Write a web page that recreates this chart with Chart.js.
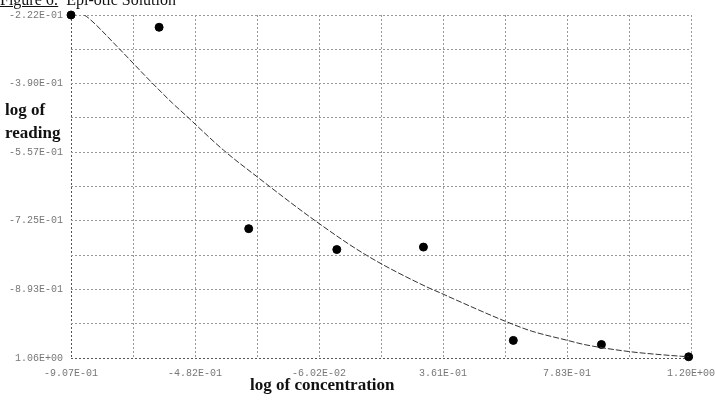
<!DOCTYPE html>
<html>
<head>
<meta charset="utf-8">
<script src="https://cdn.jsdelivr.net/npm/chart.js@4"></script>
<style>
  body { margin: 0; background: #fff; }
  #wrap { position: relative; width: 715px; height: 400px; overflow: hidden; background: #fff; }
  #wrap canvas { position: absolute; left: 0; top: 0; }
  .lbl { position: absolute; font-family: "Liberation Serif", "Times New Roman", serif; color: #111; white-space: pre; }
  #fig-title { left: 0; top: -8px; font-size: 16px; line-height: 16px; }
  #fig-title u { text-decoration-thickness: 1px; }
  #y-title { left: 5px; top: 98px; font-size: 17px; font-weight: bold; line-height: 23px; }
  #x-title { left: 250px; top: 375px; font-size: 17px; font-weight: bold; line-height: 20px; }
</style>
</head>
<body>
<div id="wrap">
  <canvas id="chart" width="715" height="400"></canvas>
  <div class="lbl" id="fig-title"><u>Figure 6:</u>  Epi-otic Solution</div>
  <div class="lbl" id="y-title">log of
reading</div>
  <div class="lbl" id="x-title">log of concentration</div>
</div>
<script>
// measured readings
const xValues = [-0.907, -0.607, -0.302, -0.002, 0.293, 0.599, 0.899, 1.196];
const yValues = [-0.222, -0.252, -0.744, -0.795, -0.789, -1.017, -1.027, -1.057];

// fitted curve, read along its length
const fitX = [-0.862, -0.848, -0.746, -0.647, -0.562, -0.518, -0.388, -0.272, -0.071, 0.099,
              0.303, 0.354, 0.394, 0.571, 0.660, 0.784, 0.840, 0.990, 1.103, 1.196];
const fitY = [-0.222, -0.229, -0.302, -0.376, -0.437, -0.466, -0.552, -0.618, -0.727, -0.809,
              -0.886, -0.902, -0.915, -0.970, -0.994, -1.017, -1.027, -1.044, -1.052, -1.057];

// axis labels, left to right / bottom to top
const xTickLabels = ['-9.07E-01', '-4.82E-01', '-6.02E-02', '3.61E-01', '7.83E-01', '1.20E+00'];
const yTickLabels = ['1.06E+00', '-8.93E-01', '-7.25E-01', '-5.57E-01', '-3.90E-01', '-2.22E-01'];

const X_MIN = -0.907, X_MAX = 1.204;
const Y_MIN = -1.06, Y_MAX = -0.222;
const DIVS = 10;

function gridTicks(min, max) {
    const out = [];
    for (let i = 0; i <= DIVS; i++) out.push({ value: min + (max - min) * i / DIVS });
    return out;
}

const points = xValues.map((x, i) => ({ x, y: yValues[i] }));
const fit = fitX.map((x, i) => ({ x, y: fitY[i] }));

const tickFont = { family: '"Liberation Mono", "DejaVu Sans Mono", monospace', size: 10 };
const gridColor = c => c.index === 0 ? '#555' : '#999';

new Chart(document.getElementById('chart'), {
    type: 'scatter',
    data: {
        datasets: [
            {
                type: 'line',
                data: fit,
                borderColor: '#333',
                borderWidth: 1,
                borderDash: [6, 2],
                pointRadius: 0,
                cubicInterpolationMode: 'monotone',
                fill: false
            },
            {
                data: points,
                backgroundColor: '#000',
                borderColor: '#000',
                pointRadius: 4,
                clip: false
            }
        ]
    },
    options: {
        responsive: false,
        animation: false,
        devicePixelRatio: 1,
        layout: { padding: { top: 15, right: 24, bottom: 0, left: 0 } },
        plugins: { legend: { display: false }, tooltip: { enabled: false } },
        scales: {
            x: {
                type: 'linear',
                min: X_MIN, max: X_MAX,
                afterBuildTicks: s => { s.ticks = gridTicks(X_MIN, X_MAX); },
                afterFit: s => { s.height = 42; s.paddingLeft = 0; s.paddingRight = 0; },
                grid: { color: gridColor, lineWidth: 1, drawTicks: false },
                border: { display: false, dash: [2, 2] },
                ticks: {
                    autoSkip: false, maxRotation: 0, padding: 9,
                    font: tickFont, color: '#777',
                    callback: (v, i) => i % 2 === 0 ? xTickLabels[i / 2] : ''
                }
            },
            y: {
                type: 'linear',
                min: Y_MIN, max: Y_MAX,
                afterBuildTicks: s => { s.ticks = gridTicks(Y_MIN, Y_MAX); },
                afterFit: s => { s.width = 71; s.paddingTop = 0; s.paddingBottom = 0; },
                grid: { color: gridColor, lineWidth: 1, drawTicks: false },
                border: { display: false, dash: [2, 2] },
                ticks: {
                    autoSkip: false, padding: 8,
                    font: tickFont, color: '#777',
                    callback: (v, i) => i % 2 === 0 ? yTickLabels[i / 2] : ''
                }
            }
        }
    }
});
</script>
</body>
</html>
